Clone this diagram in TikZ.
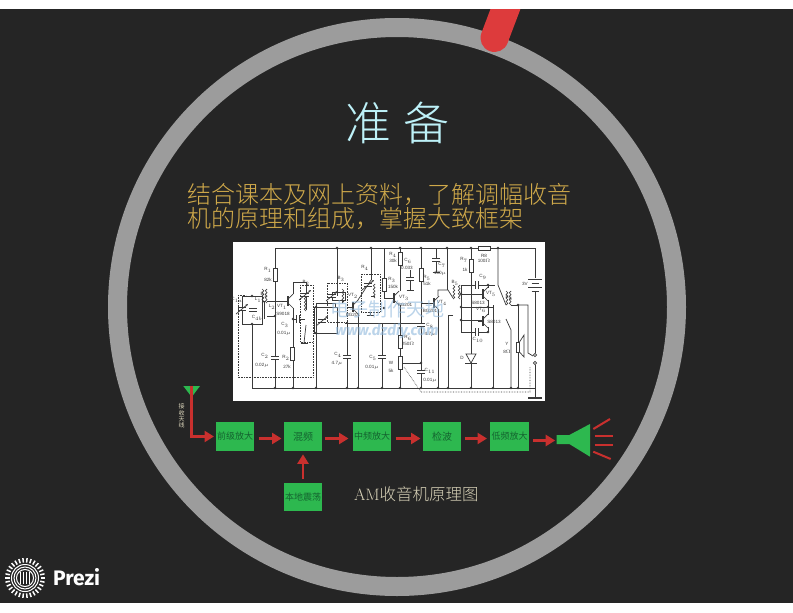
\documentclass[tikz,border=0pt]{standalone}
\usepackage{fontspec}
\newfontfamily\cjk[UprightFont = * Light]{Noto Sans CJK SC}
\newfontfamily\cjkreg{Noto Sans CJK SC}
\newfontfamily\prezifont{Fira Sans}
\newfontfamily\tagfont{Liberation Sans}
\usetikzlibrary{arrows.meta, positioning}

\definecolor{slatebg}{HTML}{252525}
\definecolor{ringgray}{HTML}{9C9C9C}
\definecolor{barred}{HTML}{DD3B3C}
\definecolor{blockgreen}{HTML}{2DB84F}
\definecolor{blocktext}{HTML}{14632F}
\definecolor{arrowred}{HTML}{C9302E}
\definecolor{titlecyan}{HTML}{BDF1F8}
\definecolor{subgold}{HTML}{CFA94A}
\definecolor{capbeige}{HTML}{D8D2B8}
\definecolor{wiregray}{HTML}{3A3A3A}
\definecolor{markblue}{HTML}{8FB8DC}

\tikzset{
	block/.style = {draw = none, fill = blockgreen, minimum width = 38.6pt, minimum height = 28.3pt,
		inner sep = 0pt, text = blocktext, font = \cjkreg\fontsize{9}{9}\selectfont},
	flow/.style = {->, draw = arrowred, line width = 2.6pt},
	level/.style = {transform canvas = {yshift = -2pt}},
	blast/.style = {draw = arrowred, line width = 2pt},
	wire/.style = {draw = wiregray, line width = 0.7pt},
	dotwire/.style = {draw = wiregray, line width = 0.6pt, densely dotted},
	part/.style = {draw = wiregray, line width = 0.9pt, fill = white, minimum width = 4pt,
		minimum height = 13pt, inner sep = 0pt},
	dot/.style = {circle, fill = wiregray, minimum size = 2.8pt, inner sep = 0pt},
	tag/.style = {text = wiregray, inner sep = 0pt, font = \tagfont\fontsize{4.6}{5}\selectfont}
}

% Parts of the circuit
\newcommand{\plates}[2]{
	\fill [white] (#1 - 4, #2 - 1.4) rectangle (#1 + 4, #2 + 1.4);
	\draw [wire] (#1 - 4, #2 - 1.4) -- (#1 + 4, #2 - 1.4) (#1 - 4, #2 + 1.4) -- (#1 + 4, #2 + 1.4);
}
\newcommand{\uprightplates}[2]{
	\fill [white] (#1 - 1.4, #2 - 4) rectangle (#1 + 1.4, #2 + 4);
	\draw [wire] (#1 - 1.4, #2 - 4) -- (#1 - 1.4, #2 + 4) (#1 + 1.4, #2 - 4) -- (#1 + 1.4, #2 + 4);
}
\newcommand{\tuner}[2]{
	\plates{#1}{#2}
	\draw [wire, ->, >={Stealth[length = 2.5pt, width = 2pt]}] (#1 - 6, #2 + 5) -- (#1 + 6, #2 - 5);
}
\newcommand{\winding}[2]{
	\draw [wire] (#1, #2 - 7) arc (90:-90:1.75) arc (90:-90:1.75) arc (90:-90:1.75) arc (90:-90:1.75);
}
\newcommand{\windingl}[2]{
	\draw [wire] (#1, #2 - 7) arc (90:270:1.75) arc (90:270:1.75) arc (90:270:1.75) arc (90:270:1.75);
}
\newcommand{\transistor}[2]{
	\draw [wire, line width = 1.1pt] (#1, #2 - 5) -- (#1, #2 + 5);
	\draw [wire] (#1, #2 - 2) -- (#1 + 5, #2 - 7) (#1, #2 + 2) -- (#1 + 5, #2 + 7);
	\draw [wire] (#1 - 5, #2) -- (#1, #2);
}
\newcommand{\earth}[2]{
	\draw [wire, line width = 1pt] (#1 - 3.5, #2) -- (#1 + 3.5, #2);
}

\begin{document}
\begin{tikzpicture}[x = 1pt, y = -1pt, > = {Triangle[length = 9.5pt, width = 11pt]}]

	% Slide
	
	\useasboundingbox (0, 0) rectangle (793, 613);
	\fill [white] (0, 0) rectangle (793, 613);
	\fill [slatebg] (0, 9) rectangle (793, 603);
	
	% Ring
	
	\draw [ringgray, line width = 19pt] (397, 307) circle (279.5);
	
	% Red bar
	
	\begin{scope}
		\clip (0, 9) rectangle (793, 603);
		\draw [barred, line width = 28pt, line cap = round] (507, 5) -- (494.5, 38);
	\end{scope}
	
	% Heading
	
	\node (title) [text = titlecyan, font = \cjk\fontsize{46}{46}\selectfont] at (397.5, 123) {准\hspace{13pt}备};
	\node (goal) [text = subgold, font = \cjk\fontsize{24}{24}\selectfont, align = left, anchor = west, inner sep = 0pt] at (187, 206)
		{结合课本及网上资料，了解调幅收音\\[0pt]机的原理和组成，掌握大致框架};
	
	% Circuit
	
	\fill [white] (233, 242) rectangle (545, 401);
	
	% Rails
	
	\draw [wire] (275, 248) -- (535, 248);
	\draw [wire] (252, 388) -- (535, 388);
	
	% Input stage
	
	\draw [wire] (275, 248) -- (275, 388);
	\draw [wire] (242, 296) rectangle (262, 324);
	\draw [wire] (252, 324) -- (252, 388);
	\draw [wire] (267, 301) -- (283, 301);
	\draw [wire] (267, 316) -- (275, 316);
	\draw [wire, line width = 1pt] (264.5, 301) -- (264.5, 319);
	\tuner{242}{309}
	\plates{253}{310}
	\winding{262}{310}
	\windingl{267}{310}
	\transistor{288}{301}
	
	% First mixer
	
	\draw [wire] (293, 294) -- (293, 282) -- (306, 282) -- (306, 310);
	\draw [wire] (293, 308) -- (293, 388);
	\draw [wire] (293, 319) -- (305, 319);
	\draw [wire] (314, 307) rectangle (337, 333);
	\draw [wire] (316, 303) -- (335, 303) -- (335, 307);
	\draw [wire] (316, 303) -- (316, 388);
	\draw [wire] (306, 325) -- (304, 343);
	\tuner{305}{295}
	\uprightplates{298}{319}
	\windingl{306}{318}
	\tuner{322}{321}
	\earth{304}{343}
	
	% Second stage
	
	\draw [wire] (337, 248) -- (337, 296);
	\draw [wire] (332, 292) rectangle (345, 300);
	\draw [wire] (342, 300) -- (342, 303);
	\draw [wire] (347, 322) -- (347, 388);
	\draw [wire] (347, 307) -- (352, 307);
	\draw [wire] (358, 314) -- (358, 388);
	\draw [wire] (358, 300) -- (371, 280);
	\draw [wire] (371, 248) -- (371, 280);
	\draw [wire] (371, 296) -- (375, 296);
	\draw [wire] (370, 312) -- (370, 315);
	\tuner{332}{296}
	\winding{342}{310}
	\tuner{368}{285}
	\windingl{375}{305}
	\transistor{353}{307}
	\plates{347}{357}
	\earth{370}{315}
	
	% Third stage
	
	\draw [wire] (384, 248) -- (384, 298) -- (393, 298);
	\draw [wire] (382, 323) -- (382, 388);
	\draw [wire] (345, 323) -- (420, 323);
	\draw [wire] (400, 248) -- (400, 291);
	\draw [wire] (400, 305) -- (400, 388);
	\draw [wire] (400, 363) -- (421, 363);
	\draw [wire] (410, 270) -- (410, 290);
	\transistor{394}{298}
	\plates{382}{357}
	\plates{410}{279}
	\earth{410}{290}
	
	% Fourth stage
	
	\draw [wire] (421, 248) -- (421, 388);
	\draw [wire] (421, 303) -- (433, 303);
	\draw [wire] (436, 248) -- (436, 272);
	\draw [wire] (438, 296) -- (438, 290) -- (448, 290) -- (453, 298);
	\draw [wire] (438, 310) -- (438, 388);
	\draw [wire] (447, 248) -- (447, 290);
	\draw [wire] (453, 315) -- (448, 315) -- (448, 388);
	\transistor{434}{303}
	\plates{436}{260}
	\earth{436}{272}
	\plates{421}{325}
	\plates{421}{372}
	\winding{453}{306}
	\windingl{460}{306}
	
	% Output stage
	
	\draw [wire] (471, 248) -- (471, 388);
	\draw [wire] (461, 285) -- (461, 332) -- (488, 332);
	\draw [wire] (461, 285) -- (495, 285);
	\draw [wire] (461, 294) -- (482, 294);
	\draw [wire] (461, 320) -- (483, 320);
	\draw [wire] (461, 307) -- (487, 307);
	\draw [wire] (488, 300) -- (488, 315);
	\draw [wire] (488, 285) -- (488, 288);
	\draw [wire] (488, 327) -- (488, 332);
	\draw [wire] (493, 305) -- (493, 388);
	\draw [wire] (488, 307) -- (493, 307);
	\draw [wire] (498, 248) -- (498, 285) -- (506, 305);
	\draw [wire] (506, 319) -- (511, 330) -- (511, 388);
	\draw [wire] (511, 305) -- (518, 305) -- (518, 388);
	\draw [wire] (518, 305) -- (528, 305) -- (528, 353) -- (533, 356);
	\transistor{483}{294}
	\transistor{483}{321}
	\uprightplates{477}{285}
	\uprightplates{477}{332}
	\winding{506}{312}
	\windingl{511}{312}
	
	% Diode, speaker, battery, switch
	
	\fill [white] (467, 350) rectangle (475, 366);
	\draw [wire] (471, 350) -- (471, 366);
	\draw [wire, fill = white] (466, 354) -- (476, 354) -- (471, 363) -- cycle;
	\draw [wire, line width = 1pt] (465, 363) -- (477, 363);
	\draw [wire, fill = white] (516, 342) rectangle (519.5, 352);
	\draw [wire, fill = white] (519.5, 342) -- (524, 335) -- (524, 357) -- (519.5, 352) -- cycle;
	\fill [white] (528, 277) rectangle (542, 293);
	\foreach \yy/\half in {279/7, 283/3.5, 287/7, 291/3.5}
		\draw [wire, line width = 1pt] (535 - \half, \yy) -- (535 + \half, \yy);
	\draw [wire] (535, 248) -- (535, 278);
	\draw [wire] (535, 292) -- (535, 353);
	\draw [wire] (535, 365) -- (535, 398);
	\draw [wire, fill = white] (535, 355) circle (1.6) (535, 363) circle (1.6);
	\draw [wire, line width = 1.1pt] (528, 398) -- (542, 398);
	
	% Dotted links
	
	\draw [dotwire] (238, 295) -- (238, 377) -- (313, 377) -- (313, 342);
	\draw [dotwire] (238, 295) -- (246, 295);
	\draw [dotwire] (300, 285) rectangle (313, 342);
	\draw [dotwire] (327, 283) rectangle (347, 322);
	\draw [dotwire] (361, 274) rectangle (380, 312);
	\draw [dotwire] (404, 367) -- (421, 392) -- (530, 392) -- (530, 367);
	
	% Resistors
	
	\node (rone) [part] at (275, 275) {};
	\node (rtwo) [part] at (292.5, 354) {};
	\node (rthree) [part] at (384, 285) {};
	\node (rfour) [part] at (400, 259) {};
	\node (rfive) [part] at (421, 275) {};
	\node (rsix) [part] at (400, 342) {};
	\node (rpot) [part] at (400, 363) {};
	\node (rseven) [part] at (471, 266) {};
	\node (reight) [part, minimum width = 12pt, minimum height = 4pt] at (484, 248) {};
	\plates{275}{358}
	
	% Junctions
	
	\foreach \xx in {275, 293, 316, 347, 358, 382, 400, 421, 438, 448, 471, 493, 511, 518}
		\node [dot] at (\xx, 388) {};
	\foreach \xx in {337, 371, 400, 421, 447, 471, 498}
		\node [dot] at (\xx, 248) {};
	\foreach \xx/\yy in {275/316, 293/319, 252/296, 252/324, 316/307, 316/333, 384/308, 400/328, 421/363, 461/294, 461/307, 461/320, 488/307, 488/285, 488/332, 518/305}
		\node [dot] at (\xx, \yy) {};
	
	% Circuit labels
	
	\foreach \xx/\yy/\txt in {268/270/R$_1$, 268/280/82k, 265/356/C$_2$, 262/365/0.02$\mu$, 286/358/R$_2$, 287/367/27k, 282/307/VT$_1$, 283/314/S9018, 285/325/C$_3$, 284/333/0.01$\mu$, 237/300/C$_{1a}$, 264/295/B$_1$, 258/300/L$_1$, 272/307/L$_2$, 257/318/C$_{4b}$, 306/283/B$_2$, 338/355/C$_4$, 337/363/4.7$\mu$, 373/358/C$_5$, 372/367/0.01$\mu$, 341/279/B$_3$, 353/296/VT$_2$, 353/315/BG201, 365/268/R$_4$, 393/255/R$_4$, 393/261/30k, 408/261/C$_6$, 407/268/0.033, 392/280/R$_3$, 393/287/150k, 404/298/VT$_3$, 405/305/BG201, 427/278/R$_5$, 427/284/51k, 430/326/C$_8$, 430/334/4.7$\mu$, 430/371/C$_{11}$, 430/380/0.01$\mu$, 442/265/C$_7$, 440/273/100$\mu$, 430/311/BG201, 442/303/VT$_4$, 455/283/B$_5$, 464/260/R$_7$, 465/270/1k, 484/256/R8, 484/261/100$\Omega$, 491/294/VT$_5$, 478/303/S8013, 481/310/VT$_6$, 494/322/S8013, 483/277/C$_9$, 478/340/C$_{10}$, 462/358/D, 509/298/B$_6$, 507/344/Y, 507/352/8$\Omega$, 525/284/3V, 408/338/R$_6$, 408/344/250$\Omega$, 391/363/W, 391/371/5k}
		\node [tag] at (\xx, \yy) {\txt};
	
	% Watermark
	
	\node (markhead) [text = markblue, opacity = 0.6, font = \cjkreg\fontsize{19}{19}\selectfont] at (387, 309) {电子制作天地};
	\node (mark) [text = markblue, opacity = 0.6, font = \prezifont\bfseries\itshape\fontsize{15}{15}\selectfont] at (387, 331) {www.dzdiy.com};
	
	% Blocks
	
	\node (front) [block] at (235, 436.5) {前级放大};
	\node (mixer) [block, right = 29pt of front, font = \cjkreg\fontsize{10}{10}\selectfont] {混频};
	\node (ifamp) [block, right = 30pt of mixer] {中频放大};
	\node (detector) [block, right = 31pt of ifamp, font = \cjkreg\fontsize{10}{10}\selectfont] {检波};
	\node (audio) [block, right = 28.5pt of detector] {低频放大};
	\node (local) [block, below = 32pt of mixer] {本地震荡};
	
	% Antenna
	
	\fill [blockgreen] (183.3, 386) -- (200, 386) -- (191.7, 397) -- cycle;
	\coordinate (aerial) at (191.7, 386);
	\coordinate (elbow) at (191.7, 436.5);
	\draw [flow, shorten > = 1.5pt] (aerial) -- (elbow) -- (front);
	\node (aeriallabel) [text = capbeige, inner sep = 0pt, align = center, font = \cjkreg\fontsize{6}{6.2}\selectfont] at (181.7, 416) {接\\收\\天\\线};
	
	% Signal path
	
	\draw [flow, level, shorten < = 4pt, shorten > = 2pt] (front) -- (mixer);
	\draw [flow, level, shorten < = 2pt, shorten > = 4pt] (mixer) -- (ifamp);
	\draw [flow, level, shorten < = 4pt, shorten > = 2pt] (ifamp) -- (detector);
	\draw [flow, level, shorten < = 3pt, shorten > = 3pt] (detector) -- (audio);
	\draw [flow, shorten < = 4pt, shorten > = 3.5pt] (local) -- (mixer);
	
	% Speaker
	
	\fill [blockgreen] (556.7, 435) -- (569.3, 435) -- (590, 424) -- (590, 456.7) -- (569.3, 444) -- (556.7, 444) -- cycle;
	\coordinate (horn) at (556.7, 440.5);
	\draw [flow, shorten < = 4pt, shorten > = 1.5pt] (audio.east |- horn) -- (horn);
	\draw [blast] (593.3, 429) -- (610, 419);
	\draw [blast] (594.7, 436) -- (612.7, 436);
	\draw [blast] (594.7, 444.7) -- (612.7, 444.7);
	\draw [blast] (593.3, 451.7) -- (610.7, 459);
	
	% Caption
	
	\node (caption) [text = capbeige, anchor = west, inner sep = 0pt, font = \fontsize{16.5}{16.5}\selectfont] at (354, 494) {AM{\cjk 收音机原理图}};
	
	% Logo
	
	\foreach \ang in {0, 12, ..., 348}
		\draw [white, line width = 1.5pt] (25, 578) ++(\ang:15.5) -- ++(\ang:4.5);
	\foreach \rad in {13.5, 11, 8.5}
		\draw [white, line width = 1pt] (25, 578) circle (\rad);
	\foreach \xx in {20.5, 23.5, 26.5, 29.5}
		\draw [white, line width = 1.2pt] (\xx, 572) -- (\xx, 584);
	\node (prezi) [text = white, anchor = west, inner sep = 0pt, font = \prezifont\bfseries\fontsize{21}{21}\selectfont] at (53, 577) {Prezi};

\end{tikzpicture}
\end{document}
